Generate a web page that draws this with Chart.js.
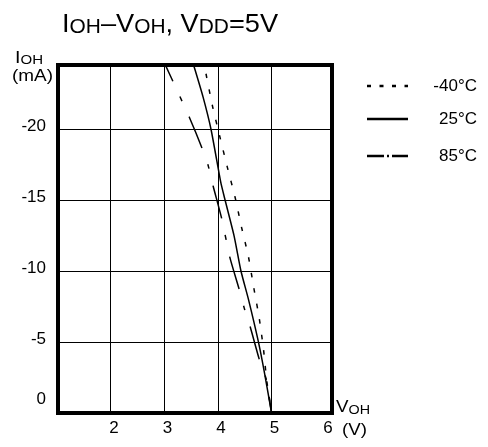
<!DOCTYPE html>
<html>
<head>
<meta charset="utf-8">
<script src="https://cdn.jsdelivr.net/npm/chart.js@4.4.0/dist/chart.umd.min.js"></script>
<style>
  html, body { margin: 0; padding: 0; background: #fff; }
</style>
</head>
<body>
<canvas id="myChart" width="488" height="447"></canvas>
<script>
var tempLabels = ['-40°C', '25°C', '85°C'];

// VOH (V) / IOH (mA)
var vohCold = [3.74, 3.90, 4.04, 4.17, 4.32, 4.44, 4.57, 4.67, 4.77, 4.85, 4.91, 5.0];
var iohCold = [-24.6, -21.6, -19.4, -17.4, -15.2, -13.1, -11.0, -8.8, -6.7, -4.5, -2.3, 0];

var vohRoom = [3.54, 3.72, 3.87, 4.05, 4.12, 4.30, 4.43, 4.57, 4.75, 4.87, 5.0];
var iohRoom = [-24.6, -22.3, -20.0, -16.3, -15.2, -12.5, -10.0, -8.0, -5.1, -2.8, 0];

var vohHot = [3.01, 3.23, 3.46, 3.70, 3.82, 3.91, 4.07, 4.22, 4.39, 4.49, 4.60, 4.77, 4.90, 5.0];
var iohHot = [-24.6, -22.8, -20.9, -18.7, -17.4, -16.0, -13.7, -11.0, -8.8, -7.4, -6.1, -3.8, -2.4, 0];

var xTicks = [2, 3, 4, 5, 6];
var yTicks = [0, -5, -10, -15, -20];

var FONT = "'Liberation Sans', Arial, sans-serif";

function pts(xs, ys) {
    return xs.map(function (x, i) { return { x: x, y: ys[i] }; });
}

// legend sample dash patterns (shorter than on the curves)
var legendDash = [[4, 8.5], [], [17, 3, 2, 3, 17]];

function drawRich(ctx, parts, x, base, width) {
    var w = 0;
    parts.forEach(function (p) {
        ctx.font = p.s + 'px ' + FONT;
        p.w = ctx.measureText(p.t).width;
        w += p.w;
    });
    ctx.save();
    ctx.translate(x, base);
    if (width) ctx.scale(width / w, 1);
    var cx = 0;
    parts.forEach(function (p) {
        ctx.font = p.s + 'px ' + FONT;
        ctx.fillText(p.t, cx, p.dy || 0);
        cx += p.w;
    });
    ctx.restore();
}

var decorPlugin = {
    id: 'decor',
    afterDraw: function (chart) {
        var ctx = chart.ctx;
        var ca = chart.chartArea;
        ctx.save();
        // heavy frame
        ctx.strokeStyle = '#000';
        ctx.lineWidth = 4;
        ctx.strokeRect(ca.left, ca.top, ca.right - ca.left, ca.bottom - ca.top);

        ctx.fillStyle = '#000';
        ctx.textAlign = 'left';
        ctx.textBaseline = 'alphabetic';
        // title
        drawRich(ctx, [
            { t: 'I', s: 26 }, { t: 'OH', s: 20, dy: 1 }, { t: '\u2013', s: 26 },
            { t: 'V', s: 26 }, { t: 'OH', s: 20, dy: 1 }, { t: ', V', s: 26 },
            { t: 'DD', s: 20, dy: 1 }, { t: '=5V', s: 26 }
        ], 62, 32, 216);
        // axis titles
        drawRich(ctx, [{ t: 'I', s: 17 }, { t: 'OH', s: 13, dy: 1 }], 15, 63, 28);
        drawRich(ctx, [{ t: '(mA)', s: 16 }], 12, 81, 41);
        drawRich(ctx, [{ t: 'V', s: 17 }, { t: 'OH', s: 13, dy: 2 }], 336, 412, 34);
        drawRich(ctx, [{ t: '(V)', s: 16 }], 342, 435, 25);

        // legend
        var ys = [86, 119, 156];
        chart.data.datasets.forEach(function (ds, i) {
            ctx.beginPath();
            ctx.setLineDash(legendDash[i]);
            ctx.lineWidth = 2.5;
            ctx.moveTo(367, ys[i]);
            ctx.lineTo(408, ys[i]);
            ctx.stroke();
            ctx.setLineDash([]);
            ctx.font = '17px ' + FONT;
            ctx.textAlign = 'right';
            ctx.textBaseline = 'middle';
            ctx.fillText(ds.label, 477, ys[i]);
        });
        ctx.restore();
    }
};

var chartData = {
    datasets: [
        { label: tempLabels[0], data: pts(vohCold, iohCold), borderDash: [4.5, 11.2], borderDashOffset: 6 },
        { label: tempLabels[1], data: pts(vohRoom, iohRoom) },
        { label: tempLabels[2], data: pts(vohHot, iohHot), borderDash: [34, 17, 5, 17], borderDashOffset: 15.4 }
    ]
};

var chartOptions = {
    responsive: false,
    animation: false,
    layout: { padding: { left: 0, top: 65, right: 156, bottom: 0 } },
    plugins: { legend: { display: false }, tooltip: { enabled: false } },
    elements: {
        point: { radius: 0 },
        line: { tension: 0.2, borderWidth: 1.5, borderColor: '#000', fill: false }
    },
    scales: {
        x: {
            type: 'linear', min: 1.01, max: 6.13,
            afterBuildTicks: function (s) { s.ticks = xTicks.map(function (v) { return { value: v }; }); },
            afterFit: function (s) { s.height = 27; },
            border: { display: false },
            grid: {
                drawTicks: false, lineWidth: 1,
                color: function (c) { return c.tick && c.tick.value === 6 ? 'rgba(0,0,0,0)' : '#000'; }
            },
            ticks: {
                color: '#000', padding: 5, labelOffset: 3, maxRotation: 0, autoSkip: false,
                font: { family: FONT, size: 17 },
                callback: function (v) { return String(v); }
            }
        },
        y: {
            type: 'linear', min: -24.55, max: 0, reverse: true,
            afterBuildTicks: function (s) { s.ticks = yTicks.map(function (v) { return { value: v }; }); },
            afterFit: function (s) { s.width = 58; },
            border: { display: false },
            grid: { drawTicks: false, lineWidth: 1, color: '#000' },
            ticks: {
                color: '#000', padding: 12, labelOffset: -3, autoSkip: false,
                font: function (c) {
                    return { family: FONT, size: 17, lineHeight: (c.tick && c.tick.value === 0) ? '22px' : 1.2 };
                },
                callback: function (v) { return v === 0 ? ['0', ''] : String(v); }
            }
        }
    }
};

var chart = new Chart(document.getElementById('myChart').getContext('2d'), {
    type: 'line', data: chartData, options: chartOptions, plugins: [decorPlugin]
});
</script>
</body>
</html>
